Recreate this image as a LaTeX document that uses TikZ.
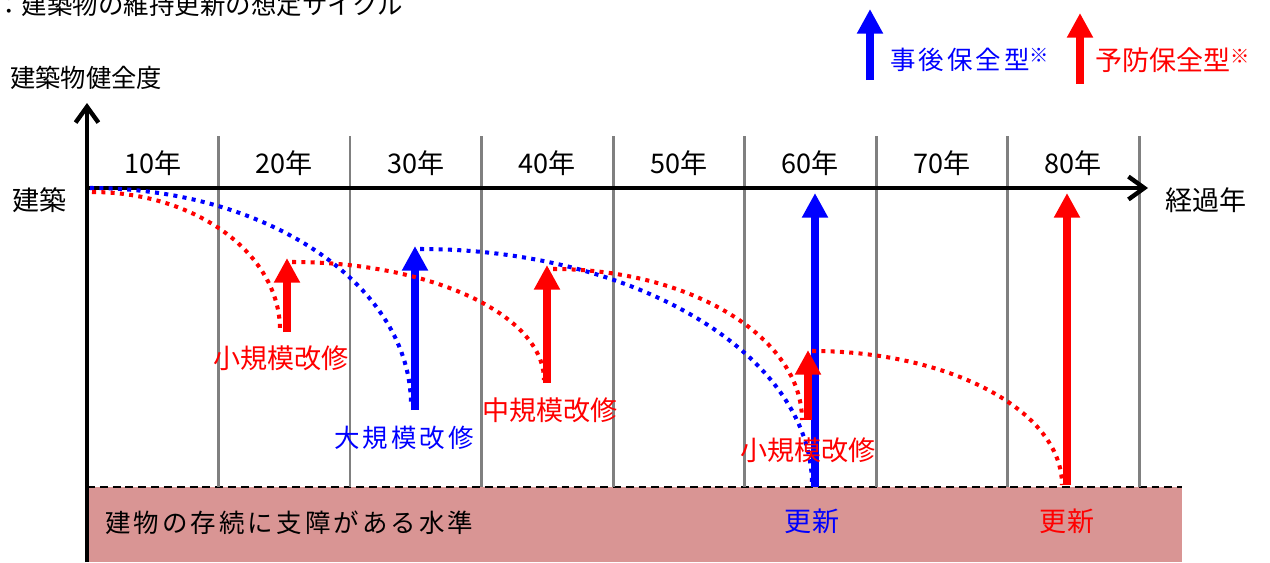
\documentclass[tikz,border=0pt]{standalone}
\usepackage{fontspec}
\setmainfont{Noto Sans CJK JP}
\usetikzlibrary{arrows.meta}
\definecolor{Band}{HTML}{D99594}
\definecolor{Grid}{HTML}{808080}
\definecolor{KeepBlue}{HTML}{0000FF}
\definecolor{KeepRed}{HTML}{FF0000}
\newcommand{\bigtxt}{\fontsize{15.4pt}{15.4pt}\selectfont}
\newcommand{\widetxt}{\fontsize{14.5pt}{14.5pt}\selectfont\addfontfeatures{LetterSpace=12}}
\newcommand{\notemark}{\raisebox{4pt}{\fontsize{11pt}{11pt}\selectfont ※}}
\tikzset{
  lbl/.style={font=\bigtxt,inner sep=0pt},
  widelbl/.style={font=\widetxt,inner sep=0pt},
  health/.style={line width=2.3pt,dash pattern=on 2.3pt off 3pt},
  fix/.style={line width=4.5pt,-{Triangle[length=14pt,width=14pt]}},
  axis/.style={line width=2.5pt,-{Straight Barb[length=9pt,width=13pt]}},
}

\begin{document}
\begin{tikzpicture}[x=0.02cm,y=-0.02cm]
  \useasboundingbox (0,0) rectangle (1270,562);
  % lower band
  \fill[Band] (87,487) rectangle (1182,562);
  \draw[line width=1.1pt,dash pattern=on 4.5pt off 2.8pt] (87,487) -- (1182,487);
  \foreach \k in {1,...,8} {
    \draw[Grid,line width=1.7pt] ({87+131.5*\k},136) -- ({87+131.5*\k},487);
    \pgfmathtruncatemacro{\yr}{10*\k}
    \node[lbl] (yr\k) at ({87+131.5*(\k-0.5)},163) {\yr 年};
  }
  % axes
  \draw[axis] (87,562) -- (87,103);
  \draw[axis] (87,188) -- (1148,188);
  \node[font=\fontsize{14.5pt}{14.5pt}\selectfont,inner sep=0pt,anchor=west] (title) at (-4,5) {：建築物の維持更新の想定サイクル};
  \node[font=\fontsize{14.4pt}{14.4pt}\selectfont,inner sep=0pt,anchor=west] (yname) at (10,78) {建築物健全度};
  \node[lbl] (start) at (40,200) {建築};
  \node[lbl] (xname) at (1206,200) {経過年};
  \node[widelbl,anchor=west] (limit) at (105,523) {建物の存続に支障がある水準};
  % blue: after-failure cycle
  \draw[health,KeepBlue] (90,188) .. controls (267,188) and (411,285) .. (411,405);
  \draw[health,KeepBlue] (420,249) .. controls (636,249) and (812,355) .. (812,485);
  \draw[fix,KeepBlue] (415,410) -- (415,246);
  \draw[fix,KeepBlue] (815,487) -- (815,193);
  \node[widelbl,text=KeepBlue] (bigfix) at (404,438) {大規模改修};
  \node[lbl,text=KeepBlue] (renewb) at (812,521) {更新};
  % red: preventive cycle
  \draw[health,KeepRed] (92,192) .. controls (196,192) and (280,254) .. (280,330);
  \draw[health,KeepRed] (292,262) .. controls (431,262) and (544,315) .. (544,380);
  \draw[health,KeepRed] (553,269) .. controls (690,269) and (802,337) .. (802,420);
  \draw[health,KeepRed] (812,351) .. controls (950,351) and (1062,411) .. (1062,485);
  \draw[fix,KeepRed] (287,332) -- (287,258);
  \draw[fix,KeepRed] (547,383) -- (547,265);
  \draw[fix,KeepRed] (808,420) -- (808,350);
  \draw[fix,KeepRed] (1067,485) -- (1067,193);
  \node[lbl,text=KeepRed] (smallfixa) at (281,358) {小規模改修};
  \node[lbl,text=KeepRed] (midfix) at (550,410) {中規模改修};
  \node[lbl,text=KeepRed] (smallfixb) at (808,450) {小規模改修};
  \node[lbl,text=KeepRed] (renewr) at (1067,521) {更新};
  % legend
  \draw[fix,KeepBlue] (870,80) -- (870,9);
  \node[widelbl,text=KeepBlue,anchor=west] (keyb) at (890,60) {事後保全型\notemark};
  \draw[fix,KeepRed] (1080,84) -- (1080,13);
  \node[lbl,text=KeepRed,anchor=west] (keyr) at (1095,60) {予防保全型\notemark};
\end{tikzpicture}
\end{document}
